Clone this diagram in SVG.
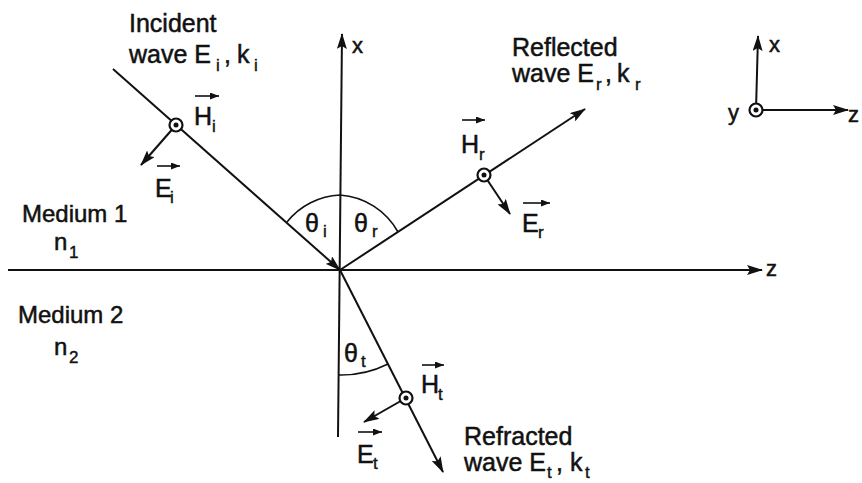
<svg xmlns="http://www.w3.org/2000/svg" width="862" height="483" viewBox="0 0 862 483">
<style>
.ln{stroke:#111;stroke-width:2;fill:none}
.thin{stroke:#111;stroke-width:1.6;fill:none}
.t{font-family:"Liberation Sans",Arial,sans-serif;font-size:25px;fill:#111;stroke:#111;stroke-width:0.5}
.s{font-family:"Liberation Sans",Arial,sans-serif;font-size:17px;fill:#111;stroke:#111;stroke-width:0.4}
.ring{stroke:#111;stroke-width:2.2;fill:#fff}
.dot{fill:#111}
</style>
<defs>
<marker id="ah" markerUnits="userSpaceOnUse" markerWidth="16" markerHeight="10" refX="15" refY="5" orient="auto">
<path d="M0,0 L16,5 L0,10 L3,5 z" fill="#111"/>
</marker>
<marker id="va" markerUnits="userSpaceOnUse" markerWidth="9" markerHeight="7" refX="9" refY="3.5" orient="auto">
<path d="M0,0 L9,3.5 L0,7 z" fill="#111"/>
</marker>
</defs>
<rect width="862" height="483" fill="#fff"/>

<g id="connectors">
<line id="x-axis" class="ln" x1="338" y1="437" x2="342" y2="34" marker-end="url(#ah)"/>
<line id="z-axis" class="ln" x1="8" y1="270" x2="762" y2="270" marker-end="url(#ah)"/>
<line id="incident-ray" class="ln" x1="113" y1="69" x2="340" y2="270" marker-end="url(#ah)"/>
<line id="reflected-ray" class="ln" x1="340" y1="270" x2="585" y2="109" marker-end="url(#ah)"/>
<line id="refracted-ray" class="ln" x1="340" y1="270" x2="443" y2="472" marker-end="url(#ah)"/>
<line id="Ei-vec" class="ln" x1="176" y1="125" x2="141" y2="165" marker-end="url(#ah)"/>
<line id="Er-vec" class="ln" x1="484" y1="175" x2="510" y2="214" marker-end="url(#ah)"/>
<line id="Et-vec" class="ln" x1="406" y1="398" x2="364" y2="422" marker-end="url(#ah)"/>
<line id="small-x" class="ln" x1="756" y1="110" x2="758" y2="36" marker-end="url(#ah)"/>
<line id="small-z" class="ln" x1="756" y1="110" x2="848" y2="110" marker-end="url(#ah)"/>
<path id="arc-ir" class="thin" d="M287,222 A72,72 0 0 1 340,195 A72,72 0 0 1 398,232"/>
<path id="arc-t" class="thin" d="M338,375 A105,105 0 0 0 388,364"/>
</g>

<g id="node-Hi-point"><circle class="ring" cx="176" cy="125" r="6.5"/><circle class="dot" cx="176" cy="125" r="2.5"/></g>
<g id="node-Hr-point"><circle class="ring" cx="484" cy="175" r="6.5"/><circle class="dot" cx="484" cy="175" r="2.5"/></g>
<g id="node-Ht-point"><circle class="ring" cx="406" cy="398" r="6.5"/><circle class="dot" cx="406" cy="398" r="2.5"/></g>
<g id="node-y-point"><circle class="ring" cx="756" cy="110" r="6.5"/><circle class="dot" cx="756" cy="110" r="2.5"/></g>

<g id="label-incident">
<text class="t" x="129" y="32">Incident</text>
<text class="t" x="129" y="63">wave E</text>
<text class="s" x="216" y="71">i</text>
<text class="t" x="224" y="63">,</text>
<text class="t" x="237" y="63">k</text>
<text class="s" x="254" y="71">i</text>
</g>

<g id="label-reflected">
<text class="t" x="512" y="56">Reflected</text>
<text class="t" x="512" y="82">wave E</text>
<text class="s" x="596" y="90">r</text>
<text class="t" x="605" y="82">,</text>
<text class="t" x="617" y="82">k</text>
<text class="s" x="635" y="90">r</text>
</g>

<g id="label-refracted">
<text class="t" x="464" y="445">Refracted</text>
<text class="t" x="464" y="471">wave E</text>
<text class="s" x="547" y="478">t</text>
<text class="t" x="556" y="471">,</text>
<text class="t" x="570" y="471">k</text>
<text class="s" x="585" y="478">t</text>
</g>

<g id="label-Hi">
<line class="thin" x1="195" y1="96" x2="219" y2="96" marker-end="url(#va)"/>
<text class="t" x="194" y="125">H</text><text class="s" x="212" y="132">i</text>
</g>
<g id="label-Ei">
<line class="thin" x1="157" y1="166" x2="180" y2="166" marker-end="url(#va)"/>
<text class="t" x="155" y="197">E</text><text class="s" x="170" y="203">i</text>
</g>
<g id="label-Hr">
<line class="thin" x1="462" y1="120" x2="485" y2="120" marker-end="url(#va)"/>
<text class="t" x="461" y="153">H</text><text class="s" x="479" y="160">r</text>
</g>
<g id="label-Er">
<line class="thin" x1="523" y1="203" x2="550" y2="203" marker-end="url(#va)"/>
<text class="t" x="522" y="232">E</text><text class="s" x="538" y="238">r</text>
</g>
<g id="label-Ht">
<line class="thin" x1="422" y1="365" x2="444" y2="365" marker-end="url(#va)"/>
<text class="t" x="421" y="393">H</text><text class="s" x="438" y="400">t</text>
</g>
<g id="label-Et">
<line class="thin" x1="358" y1="432" x2="382" y2="432" marker-end="url(#va)"/>
<text class="t" x="357" y="463">E</text><text class="s" x="373" y="469">t</text>
</g>

<g id="label-angles">
<text class="t" x="305" y="232">θ</text><text class="s" x="323" y="237">i</text>
<text class="t" x="354" y="232">θ</text><text class="s" x="372" y="237">r</text>
<text class="t" x="344" y="362">θ</text><text class="s" x="361" y="367">t</text>
</g>

<g id="label-media">
<text class="t" x="22" y="222" style="font-size:24px">Medium 1</text>
<text class="t" x="54" y="250" style="font-size:24px">n</text><text class="s" x="69" y="258">1</text>
<text class="t" x="18" y="323" style="font-size:24px">Medium 2</text>
<text class="t" x="54" y="355" style="font-size:24px">n</text><text class="s" x="69" y="363">2</text>
</g>

<g id="label-axes">
<text class="t" x="352" y="53" style="font-size:22px">x</text>
<text class="t" x="766" y="276" style="font-size:22px">z</text>
<text class="t" x="769" y="52" style="font-size:22px">x</text>
<text class="t" x="848" y="122" style="font-size:22px">z</text>
<text class="t" x="728" y="120" style="font-size:22px">y</text>
</g>
</svg>
